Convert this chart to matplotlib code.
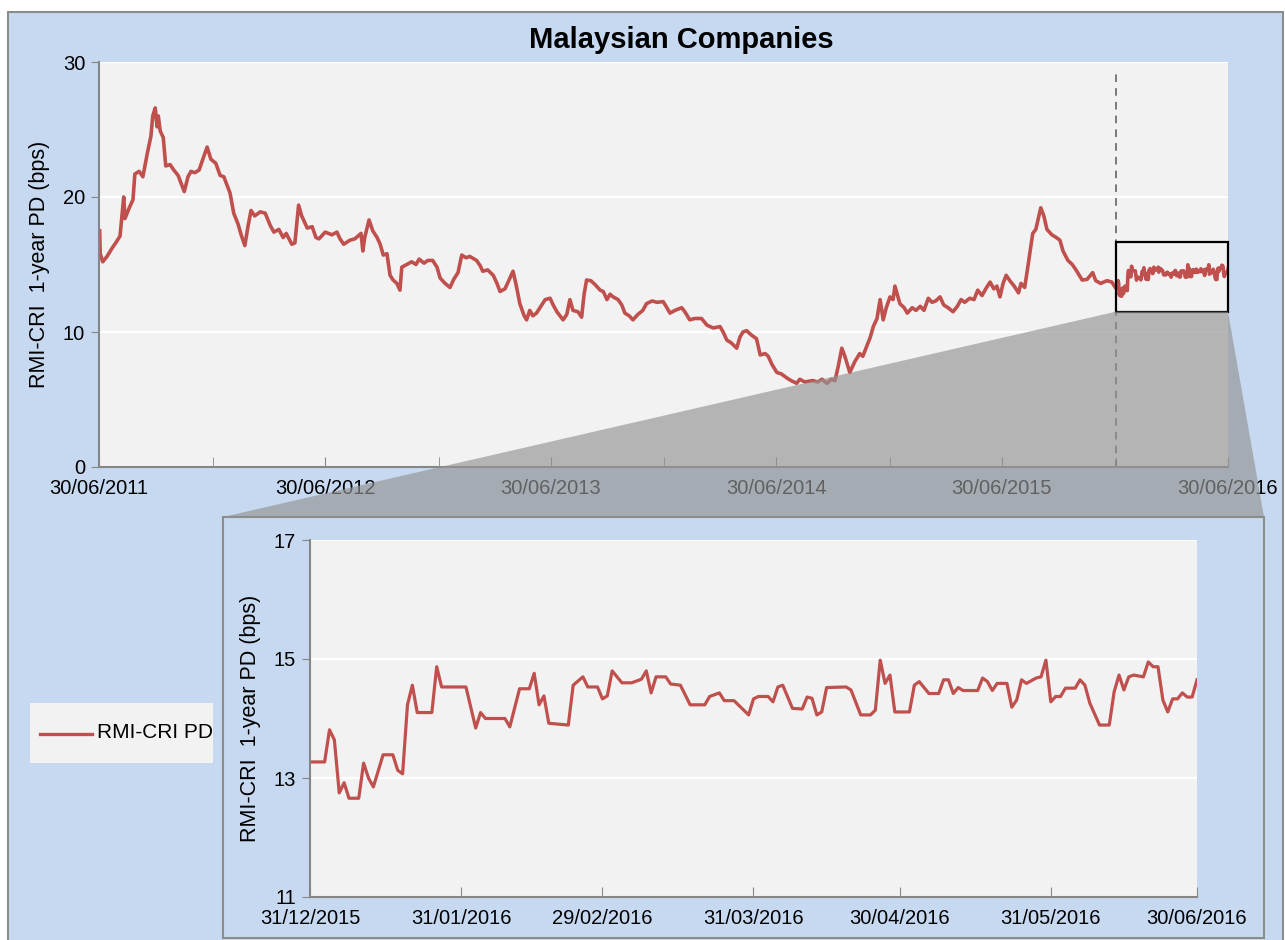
import matplotlib
matplotlib.use("Agg")
import matplotlib.pyplot as plt
import matplotlib.dates as mdates
from matplotlib.patches import Rectangle, Polygon
from matplotlib.lines import Line2D
import pandas as pd

# ---- data ----
full_start = "2011-06-30"
full_days = [1, 2, 6, 13, 21, 27, 34, 40, 42, 49, 55, 58, 65, 71, 78, 84, 87, 91, 94, 96,
             99, 104, 108, 115, 121, 128, 133, 138, 144, 149, 155, 162, 168, 175, 181, 189,
             196, 202, 212, 218, 225, 230, 236, 241, 246, 252, 261, 269, 277, 283, 291, 298,
             303, 312, 317, 323, 328, 337, 345, 351, 356, 366, 377, 385, 390, 396, 406, 414,
             424, 427, 430, 437, 443, 450, 455, 460, 466, 471, 476, 482, 487, 490, 498, 506,
             513, 518, 526, 532, 540, 547, 552, 560, 568, 574, 581, 587, 594, 600, 611, 617,
             621, 629, 638, 644, 649, 657, 665, 670, 675, 681, 688, 692, 697, 702, 708, 715,
             722, 730, 735, 741, 751, 757, 762, 767, 775, 781, 785, 789, 796, 803, 811, 816,
             822, 827, 832, 840, 846, 851, 858, 864, 872, 880, 886, 895, 903, 913, 919, 924,
             932, 943, 948, 956, 964, 975, 984, 994, 1005, 1010, 1016, 1023, 1032, 1037, 1042,
             1048, 1055, 1064, 1070, 1078, 1083, 1089, 1097, 1104, 1113, 1120, 1129, 1134,
             1142, 1155, 1163, 1170, 1178, 1185, 1191, 1196, 1202, 1207, 1215, 1223, 1231,
             1236, 1242, 1248, 1253, 1259, 1264, 1269, 1274, 1280, 1285, 1288, 1293, 1296,
             1303, 1308, 1316, 1322, 1329, 1335, 1342, 1348, 1354, 1361, 1367, 1374, 1382,
             1389, 1395, 1401, 1409, 1416, 1422, 1429, 1435, 1442, 1448, 1453, 1458, 1463,
             1468, 1474, 1481, 1488, 1492, 1498, 1503, 1511, 1516, 1524, 1529, 1534, 1542,
             1549, 1555, 1560, 1568, 1575, 1581, 1591, 1599, 1608, 1613, 1621, 1631, 1639]
full_pd = [17.5, 15.8, 15.2, 15.6, 16.2, 16.6, 17.1, 20.0, 18.4, 19.2, 19.8, 21.7, 21.9, 21.5,
           23.2, 24.5, 26.0, 26.6, 25.2, 26.0, 24.9, 24.4, 22.3, 22.4, 22.0, 21.6, 21.0, 20.4,
           21.5, 21.9, 21.8, 22.0, 22.8, 23.7, 22.8, 22.5, 21.6, 21.5, 20.3, 18.8, 18.0, 17.2,
           16.4, 17.8, 19.0, 18.6, 18.9, 18.8, 17.9, 17.4, 17.6, 17.0, 17.3, 16.5, 16.6, 19.4,
           18.6, 17.7, 17.8, 17.0, 16.9, 17.4, 17.2, 17.4, 16.9, 16.5, 16.8, 16.9, 17.3, 16.0,
           17.0, 18.3, 17.5, 17.0, 16.5, 15.7, 15.8, 14.2, 13.85, 13.6, 13.1, 14.8, 15.0, 15.2,
           15.0, 15.4, 15.1, 15.3, 15.3, 14.8, 14.0, 13.6, 13.3, 13.9, 14.4, 15.7, 15.5, 15.6,
           15.3, 14.9, 14.5, 14.6, 14.2, 13.6, 13.0, 13.2, 14.0, 14.5, 13.5, 12.1, 11.2, 10.9,
           11.6, 11.2, 11.4, 11.9, 12.4, 12.5, 12.0, 11.5, 10.9, 11.3, 12.4, 11.6, 11.5, 11.1,
           12.8, 13.85, 13.8, 13.5, 13.1, 13.0, 12.4, 12.8, 12.6, 12.4, 12.0, 11.4, 11.2, 10.9,
           11.3, 11.6, 12.1, 12.3, 12.2, 12.25, 11.8, 11.4, 11.6, 11.8, 11.5, 10.9, 11.0, 11.0,
           10.5, 10.3, 10.4, 10.0, 9.4, 9.2, 8.8, 9.6, 10.0, 10.1, 9.8, 9.5, 8.3, 8.4, 8.2, 7.6,
           7.0, 6.9, 6.6, 6.4, 6.2, 6.5, 6.3, 6.4, 6.3, 6.5, 6.2, 6.5, 6.4, 7.4, 8.8, 8.2, 7.0,
           7.8, 8.4, 8.2, 8.9, 9.6, 10.4, 11.0, 12.4, 10.9, 11.8, 12.6, 12.4, 13.4, 12.6, 12.1,
           11.8, 11.4, 11.8, 11.6, 11.9, 11.6, 12.5, 12.2, 12.3, 12.6, 12.0, 11.8, 11.5, 11.9,
           12.4, 12.2, 12.5, 12.4, 13.1, 12.7, 13.2, 13.7, 13.2, 13.4, 12.6, 13.6, 14.2, 13.8,
           13.4, 12.9, 13.6, 13.3, 14.8, 17.3, 17.6, 19.2, 18.6, 17.6, 17.2, 17.0, 16.8, 16.0,
           15.3, 15.0, 14.6, 13.85, 13.9, 14.4, 13.8, 13.6, 13.8, 13.7]

zoom_start = "2015-12-31"
zoom_end = "2016-06-30"
zoom_days = [0, 3, 4, 5, 6, 7, 8, 10, 11, 12, 13, 15, 17, 18, 19, 20, 21, 22, 25, 26, 27, 32,
             34, 35, 36, 40, 41, 43, 45, 46, 47, 48, 49, 53, 54, 56, 57, 59, 60, 61, 62, 64,
             66, 68, 69, 70, 71, 73, 74, 76, 78, 81, 82, 84, 85, 87, 90, 91, 92, 94, 95, 96,
             97, 99, 101, 102, 103, 104, 105, 106, 110, 111, 113, 115, 116, 117, 118, 119,
             120, 123, 124, 125, 127, 129, 130, 131, 132, 133, 134, 137, 138, 139, 140, 141,
             143, 144, 145, 146, 147, 149, 150, 151, 152, 153, 154, 155, 157, 158, 159, 160,
             162, 164, 165, 166, 167, 168, 169, 171, 172, 173, 174, 175, 176, 177, 178, 179,
             180, 181, 182]
zoom_pd = [13.27, 13.27, 13.81, 13.64, 12.75, 12.92, 12.66, 12.66, 13.25, 13.0, 12.85, 13.39,
           13.39, 13.13, 13.07, 14.23, 14.56, 14.10, 14.10, 14.87, 14.53, 14.53, 13.84, 14.10,
           14.0, 14.0, 13.86, 14.50, 14.50, 14.76, 14.23, 14.38, 13.92, 13.89, 14.56, 14.70,
           14.53, 14.53, 14.33, 14.38, 14.80, 14.60, 14.60, 14.66, 14.80, 14.43, 14.70, 14.70,
           14.58, 14.56, 14.23, 14.23, 14.37, 14.43, 14.30, 14.30, 14.06, 14.33, 14.37, 14.37,
           14.28, 14.53, 14.56, 14.17, 14.16, 14.36, 14.34, 14.06, 14.11, 14.52, 14.53, 14.48,
           14.06, 14.06, 14.14, 14.98, 14.59, 14.73, 14.11, 14.11, 14.56, 14.62, 14.42, 14.42,
           14.65, 14.65, 14.42, 14.52, 14.47, 14.47, 14.68, 14.62, 14.47, 14.59, 14.59, 14.19,
           14.31, 14.65, 14.59, 14.68, 14.70, 14.98, 14.28, 14.37, 14.37, 14.51, 14.51, 14.65,
           14.56, 14.26, 13.89, 13.89, 14.45, 14.73, 14.48, 14.70, 14.73, 14.70, 14.95, 14.87,
           14.87, 14.31, 14.11, 14.33, 14.33, 14.43, 14.36, 14.36, 14.65]

major_ticks = ["2011-06-30", "2012-06-30", "2013-06-30", "2014-06-30", "2015-06-30", "2016-06-30"]
minor_ticks = ["2011-12-31", "2012-12-31", "2013-12-31", "2014-12-31", "2015-12-31"]
zoom_ticks = ["2015-12-31", "2016-01-31", "2016-02-29", "2016-03-31", "2016-04-30",
              "2016-05-31", "2016-06-30"]
box_low, box_high = 11.5, 16.7

series_name = "RMI-CRI PD"
ylabel = "RMI-CRI  1-year PD (bps)"

RED = "#c0504d"
BLUE = "#c6d9f0"
PLOT_BG = "#f2f2f2"
AXIS_GRAY = "#868686"
W, H = 1285, 940

plt.rcParams["font.family"] = ["Liberation Sans", "DejaVu Sans"]

full_dates = pd.Timestamp(full_start) + pd.to_timedelta(full_days, unit="D")
zoom_dates = pd.Timestamp(zoom_start) + pd.to_timedelta(zoom_days, unit="D")
all_dates = list(full_dates) + list(zoom_dates)
all_pd = full_pd + zoom_pd


def style_axes(ax):
    ax.set_facecolor(PLOT_BG)
    for side in ("top", "right"):
        ax.spines[side].set_visible(False)
    for side in ("left", "bottom"):
        ax.spines[side].set_color(AXIS_GRAY)
        ax.spines[side].set_linewidth(1.5)
    ax.grid(axis="y", color="white", linewidth=1.6)
    ax.set_axisbelow(True)
    ax.tick_params(axis="y", direction="out", length=6, color=AXIS_GRAY, labelsize=14.5, pad=4)
    ax.tick_params(axis="x", which="both", direction="in", length=7, color=AXIS_GRAY,
                   labelsize=14.5, pad=9)


fig = plt.figure(figsize=(W / 100, H / 100), dpi=100)
fig.patch.set_facecolor("white")

# outer light-blue chart panel
fig.patches.append(Rectangle((8 / W, -0.01), 1275 / W, 0.9972, transform=fig.transFigure,
                             facecolor=BLUE, edgecolor="#8c8c8c", linewidth=1.5, zorder=-5))

fig.text(0.53, 0.957, "Malaysian Companies", ha="center", va="center",
         fontsize=21, fontweight="bold")

# ---- main chart ----
ax = fig.add_axes([99 / W, 1 - 467 / H, 1129 / W, 405 / H])
style_axes(ax)
ax.plot(all_dates, all_pd, color=RED, linewidth=2.6)
ax.set_xlim(pd.Timestamp(major_ticks[0]), pd.Timestamp(major_ticks[-1]))
ax.set_ylim(0, 30)
ax.set_yticks([0, 10, 20, 30])
ax.set_xticks([pd.Timestamp(t) for t in major_ticks])
ax.set_xticks([pd.Timestamp(t) for t in minor_ticks], minor=True)
ax.xaxis.set_major_formatter(mdates.DateFormatter("%d/%m/%Y"))
ax.set_ylabel(ylabel, fontsize=15.5, labelpad=9)

zs, ze = pd.Timestamp(zoom_start), pd.Timestamp(zoom_end)
ax.plot([zs, zs], [0, 29.3], color="#595959", linestyle=(0, (5, 4)), linewidth=1.1)
x0, x1 = mdates.date2num(zs), mdates.date2num(ze)
ax.add_patch(Rectangle((x0, box_low), x1 - x0, box_high - box_low, fill=False,
                       edgecolor="black", linewidth=1.6, zorder=4, clip_on=False))

# ---- inset frame + zoom wedge ----
frame = [223 / W, 2 / H, 1041 / W, 421 / H]
to_fig = fig.transFigure.inverted()
bl = to_fig.transform(ax.transData.transform((x0, box_low)))
br = to_fig.transform(ax.transData.transform((x1, box_low)))
top = frame[1] + frame[3]
fig.patches.append(Polygon([bl, br, (frame[0] + frame[2], top), (frame[0], top)],
                           closed=True, transform=fig.transFigure, facecolor="#949494",
                           edgecolor="none", alpha=0.66, zorder=5))
fig.patches.append(Rectangle((frame[0], frame[1]), frame[2], frame[3], transform=fig.transFigure,
                             facecolor=BLUE, edgecolor="#8c8c8c", linewidth=1.5, zorder=6))

# ---- zoomed chart ----
axz = fig.add_axes([310 / W, 1 - 897 / H, 887 / W, 357 / H])
axz.set_zorder(7)
style_axes(axz)
axz.plot(zoom_dates, zoom_pd, color=RED, linewidth=2.3)
axz.set_xlim(zs, ze)
axz.set_ylim(11, 17)
axz.set_yticks([11, 13, 15, 17])
axz.set_xticks([pd.Timestamp(t) for t in zoom_ticks])
axz.xaxis.set_major_formatter(mdates.DateFormatter("%d/%m/%Y"))
axz.set_ylabel(ylabel, fontsize=15.5, labelpad=9)

# legend box on the left
fig.patches.append(Rectangle((30 / W, 1 - 763 / H), 183 / W, 60 / H, transform=fig.transFigure,
                             facecolor=PLOT_BG, edgecolor="none", zorder=8))
fig.lines.append(Line2D([40 / W, 92 / W], [1 - 734 / H, 1 - 734 / H], transform=fig.transFigure,
                        color=RED, linewidth=2.4, zorder=9))
fig.text(97 / W, 1 - 733 / H, series_name, ha="left", va="center", fontsize=15, zorder=9)

fig.savefig("out.png", dpi=100)
